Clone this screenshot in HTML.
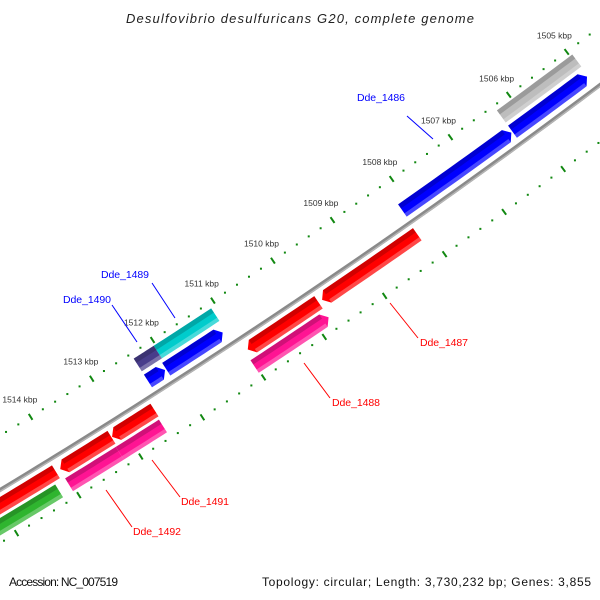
<!DOCTYPE html>
<html><head><meta charset="utf-8">
<style>
html,body{margin:0;padding:0;background:#fff;width:600px;height:600px;overflow:hidden;}
svg{display:block;font-family:"Liberation Sans",sans-serif;}
</style></head>
<body>
<svg id="map" width="600" height="600" viewBox="0 0 600 600" overflow="hidden" xmlns="http://www.w3.org/2000/svg">
<rect width="600" height="600" fill="#fff"/>
<g id="ticks"></g>
<g id="features"></g>
<g id="labels">
  <line x1="407" y1="116" x2="433" y2="139" stroke="#0000ff" stroke-width="1"/>
  <text x="357" y="101" font-size="10.5" fill="#0000ff" textLength="48">Dde_1486</text>
  <line x1="152" y1="283" x2="175" y2="318" stroke="#0000ff" stroke-width="1"/>
  <text x="101" y="278" font-size="10.5" fill="#0000ff" textLength="48">Dde_1489</text>
  <line x1="112" y1="305" x2="137" y2="342" stroke="#0000ff" stroke-width="1"/>
  <text x="63" y="303" font-size="10.5" fill="#0000ff" textLength="48">Dde_1490</text>
  <line x1="390" y1="303" x2="418" y2="338" stroke="#ff0000" stroke-width="1"/>
  <text x="420" y="346" font-size="10.5" fill="#ff0000" textLength="48">Dde_1487</text>
  <line x1="304" y1="363" x2="330" y2="398" stroke="#ff0000" stroke-width="1"/>
  <text x="332" y="406" font-size="10.5" fill="#ff0000" textLength="48">Dde_1488</text>
  <line x1="152" y1="460" x2="180" y2="497" stroke="#ff0000" stroke-width="1"/>
  <text x="181" y="505" font-size="10.5" fill="#ff0000" textLength="48">Dde_1491</text>
  <line x1="106" y1="490" x2="132" y2="527" stroke="#ff0000" stroke-width="1"/>
  <text x="133" y="535" font-size="10.5" fill="#ff0000" textLength="48">Dde_1492</text>
</g>
<text x="126" y="23" font-size="13" font-style="italic" fill="#222" textLength="348">Desulfovibrio desulfuricans G20, complete genome</text>
<text x="9" y="586" font-size="12" fill="#111" textLength="109">Accession: NC_007519</text>
<text x="262" y="586" font-size="12" fill="#111" textLength="329">Topology: circular; Length: 3,730,232 bp; Genes: 3,855</text>
</svg>
<script>
// ---- data ----
const majorTicks = [1503,1504,1505,1506,1507,1508,1509,1510,1511,1512,1513,1514,1515,1516];
const tickLabels = ["1503 kbp","1504 kbp","1505 kbp","1506 kbp","1507 kbp","1508 kbp","1509 kbp","1510 kbp","1511 kbp","1512 kbp","1513 kbp","1514 kbp","1515 kbp","1516 kbp"];
const featStart = [1504.96,1504.98,1506.28,1508.15,1509.80,1509.80,1511.08,1512.03,1511.13,1512.08,1512.50,1513.20,1514.10,1512.52,1513.22,1514.20];
const featEnd   = [1506.26,1506.26,1508.13,1509.74,1510.97,1511.02,1512.03,1512.36,1512.06,1512.36,1513.19,1514.03,1515.60,1513.22,1514.04,1515.60];
const featTrack = [-2,-1,-1,1,1,2,-2,-2,-1,-1,1,1,1,2,2,2];
const featStrand= [0,-1,-1,1,1,-1,0,0,-1,-1,1,1,1,0,0,0];
const featColor = ["#bdbdbd","#0000ff","#0000ff","#ff0000","#ff0000","#ff1493","#00cccc","#483d8b","#0000ff","#0000ff","#ff0000","#ff0000","#ff0000","#ff1493","#ff1493","#2fb52f"];

// ---- axis (circular arc) ----
const CX=-3722, CY=-5671, R0=7198, K0=1506, DEG0=53.73, DPK=0.5775;
function ang(k){return (DEG0+(k-K0)*DPK)*Math.PI/180;}
function pt(k,r){const a=ang(k);return [CX+r*Math.cos(a), CY+r*Math.sin(a)];}
const TRACK={"-2":[7157,7172],"-1":[7176,7191],"1":[7204,7219],"2":[7222,7237]};
const NS="http://www.w3.org/2000/svg";
function mk(tag,attrs,parent){const e=document.createElementNS(NS,tag);for(const k in attrs)e.setAttribute(k,attrs[k]);parent.appendChild(e);return e;}
function arcPts(k1,k2,r,n){const p=[];for(let i=0;i<=n;i++){p.push(pt(k1+(k2-k1)*i/n,r));}return p;}
function toPath(p){return "M"+p.map(q=>q[0].toFixed(2)+","+q[1].toFixed(2)).join("L")+"Z";}

const gT=document.getElementById('ticks'), gF=document.getElementById('features');

// backbone
const bb=mk('path',{d:"M"+arcPts(1503.5,1516,R0,80).map(q=>q[0].toFixed(2)+","+q[1].toFixed(2)).join("L"),fill:"none",stroke:"#8a8a8a","stroke-width":4},gT);


const bb2=mk('path',{d:"M"+arcPts(1503.5,1516,R0+1.2,80).map(q=>q[0].toFixed(2)+","+q[1].toFixed(2)).join("L"),fill:"none",stroke:"#b5b5b5","stroke-width":1.4},gT);



// ticks
const rulers=[[7148,7155],[7240,7247]];
rulers.forEach(function(rr){
  for(let t=1503*5;t<=1516*5;t++){
    const k=t/5;
    if(t%5===0){
      const a=pt(k,rr[0]),b=pt(k,rr[1]);
      const ln=mk('line',{x1:a[0],y1:a[1],x2:b[0],y2:b[1],stroke:"#118811","stroke-width":2},gT);
      
      
    } else {
      const c=pt(k,(rr[0]+rr[1])/2);
      const d=mk('rect',{x:c[0]-1,y:c[1]-1,width:2,height:2,fill:"#118811"},gT);
      
      
    }
  }
});
majorTicks.forEach(function(k,i){
  const c=pt(k,7131);
  const tx=mk('text',{x:c[0],y:c[1]+3,"text-anchor":"middle","font-size":"8.5",fill:"#333"},gT);
  tx.textContent=tickLabels[i];
  
  
});

// features
const AL=0.085;
featStart.forEach(function(s,i){
  const e=featEnd[i], tr=TRACK[String(featTrack[i])], r1=tr[0], r2=tr[1], rm=(r1+r2)/2;
  let b1=s,b2=e, pts;
  if(featStrand[i]===-1){b1=s+AL;}
  if(featStrand[i]===1){b2=e-AL;}
  const outer=arcPts(b1,b2,r2,12), inner=arcPts(b2,b1,r1,12);
  pts=[];
  if(featStrand[i]===-1){pts.push(pt(s,rm));}
  pts=pts.concat(outer);
  if(featStrand[i]===1){pts.push(pt(e,rm));}
  pts=pts.concat(inner);
  const g=mk('g',{},gF);
  
  
  mk('path',{d:toPath(pts),fill:featColor[i]},g);
  const dk=arcPts(b1,b2,r1,12).concat(arcPts(b2,b1,r1+5,12));
  mk('path',{d:toPath(dk),fill:"#000","fill-opacity":"0.18"},g);
  const lt=arcPts(b1,b2,r2-4,12).concat(arcPts(b2,b1,r2,12));
  mk('path',{d:toPath(lt),fill:"#fff","fill-opacity":"0.28"},g);
});
</script>
</body></html>
